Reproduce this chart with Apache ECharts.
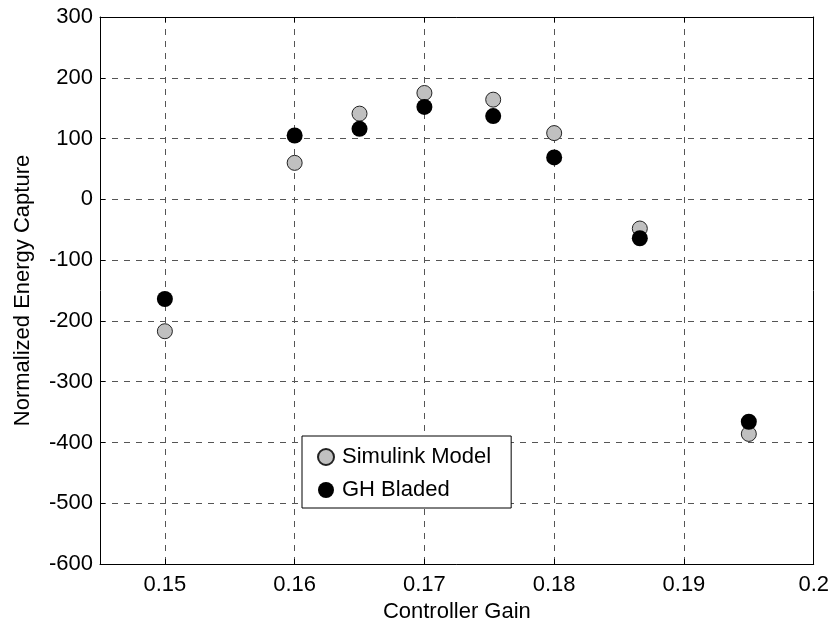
<!DOCTYPE html>
<html lang="en">
  <head>
    <meta charset="UTF-8" />
    <title>Normalized Energy Capture</title>
    <script src="https://cdn.jsdelivr.net/npm/echarts@6.0.0/dist/echarts.min.js"></script>
  </head>
  <body style="margin: 0">
    <div id="main" style="width: 832px; height: 630px"></div>
    <script type="text/javascript">
      // data
      const gains = [0.15, 0.16, 0.165, 0.17, 0.1753, 0.18, 0.1866, 0.195];
      const simulink = [-217, 60, 141, 175, 164, 109, -48, -386];
      const bladed = [-164, 105, 116, 152, 137, 69, -64, -366];
      const yTicks = { min: -600, max: 300, step: 100 };

      const font = "Liberation Sans, Arial, sans-serif";
      const fs = 22;
      const pair = (xs, ys) => xs.map((x, i) => [x, ys[i]]);

      // top / right edges of the box, no labels
      const boxAxis = {
        axisLine: { show: true, onZero: false, lineStyle: { color: "#000", width: 1 } },
        axisTick: { show: true, inside: true, length: 5, lineStyle: { color: "#000" } },
        axisLabel: { show: false },
        splitLine: { show: false },
      };

      let options = {
        animation: false,
        backgroundColor: "#fff",
        textStyle: { fontFamily: font },
        grid: { left: 100, right: 17, top: 17, bottom: 66 },
        legend: {
          left: 302,
          top: 436,
          orient: "vertical",
          backgroundColor: "#fff",
          borderColor: "#000",
          borderWidth: 1,
          borderRadius: 0,
          padding: [10, 20, 7, 15],
          itemGap: 11,
          itemWidth: 16,
          itemHeight: 16,
          textStyle: { fontFamily: font, fontSize: fs, color: "#000", padding: [0, 0, 0, 3] },
          data: [
            { name: "Simulink Model", icon: "circle" },
            { name: "GH Bladed", icon: "circle" },
          ],
        },
        xAxis: [
          {
            type: "value",
            min: 0.145,
            max: 0.2,
            name: "Controller Gain",
            nameLocation: "middle",
            nameGap: 34,
            nameTextStyle: { fontFamily: font, fontSize: fs, color: "#000" },
            axisLine: { show: true, onZero: false, lineStyle: { color: "#000" } },
            axisTick: { show: true, inside: true, length: 5, lineStyle: { color: "#000" } },
            axisLabel: {
              showMinLabel: false,
              margin: 10,
              fontFamily: font,
              fontSize: fs,
              color: "#000",
              formatter: (v) => (Math.abs(v * 100 - Math.round(v * 100)) < 1e-6 ? String(+v.toFixed(2)) : ""),
            },
            splitLine: { show: true, lineStyle: { color: "#555", type: [6, 6], width: 1 } },
          },
          Object.assign({ type: "value", position: "top", min: 0.145, max: 0.2 }, boxAxis),
        ],
        yAxis: [
          {
            type: "value",
            min: yTicks.min,
            max: yTicks.max,
            interval: yTicks.step,
            name: "Normalized Energy Capture",
            nameLocation: "middle",
            nameGap: 66,
            nameTextStyle: { fontFamily: font, fontSize: fs, color: "#000" },
            axisLine: { show: true, onZero: false, lineStyle: { color: "#000" } },
            axisTick: { show: true, inside: true, length: 5, lineStyle: { color: "#000" } },
            axisLabel: { margin: 7, fontFamily: font, fontSize: fs, color: "#000" },
            splitLine: { show: true, lineStyle: { color: "#555", type: [6, 6], width: 1 } },
          },
          Object.assign(
            { type: "value", position: "right", min: yTicks.min, max: yTicks.max, interval: yTicks.step },
            boxAxis
          ),
        ],
        series: [
          {
            name: "Simulink Model",
            type: "scatter",
            symbol: "circle",
            symbolSize: 15,
            itemStyle: { color: "#c0c0c0", borderColor: "#222", borderWidth: 1, opacity: 1 },
            data: pair(gains, simulink),
          },
          {
            name: "GH Bladed",
            type: "scatter",
            symbol: "circle",
            symbolSize: 16,
            itemStyle: { color: "#000", borderColor: "#000", borderWidth: 0, opacity: 1 },
            data: pair(gains, bladed),
          },
        ],
      };

      let myChart = echarts.init(document.getElementById("main"));
      myChart.setOption(options);
    </script>
  </body>
</html>
